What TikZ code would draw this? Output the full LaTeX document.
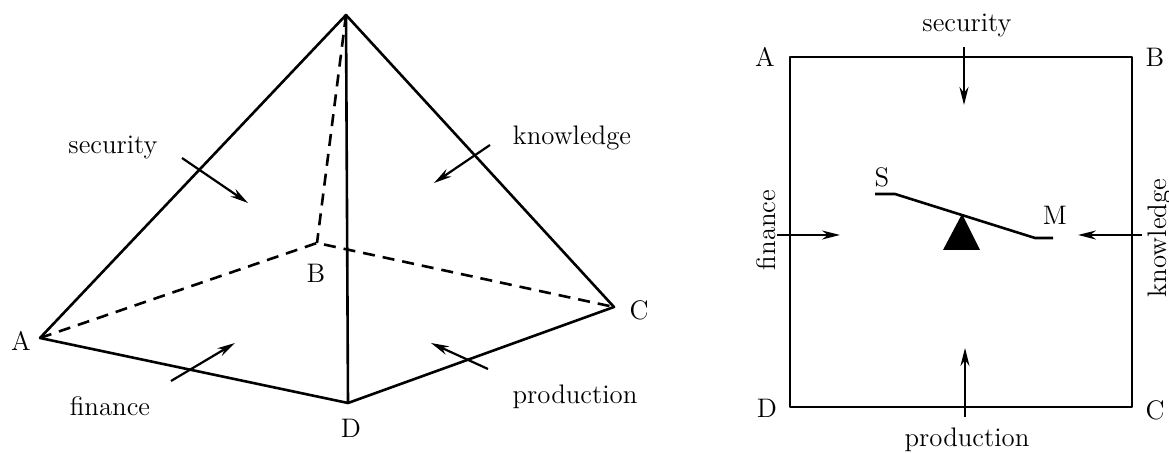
\documentclass[tikz,border=0pt]{standalone}
\usetikzlibrary{arrows.meta}
\begin{document}
\begin{tikzpicture}[x=0.5pt,y=-0.5pt,
    edge/.style={line width=1.3pt, line join=round},
    hidden/.style={edge, dash pattern=on 6pt off 4pt},
    force/.style={line width=1.1pt, -{Stealth[length=9pt,width=4.5pt]}},
    lbl/.style={font=\fontsize{13.4}{16}\selectfont, inner sep=0pt}]
\useasboundingbox (0,0) rectangle (1169,453);

% pyramid
\coordinate (top) at (346,15);
\coordinate (pA) at (40,338);
\coordinate (pB) at (317,243);
\coordinate (pC) at (614,307);
\coordinate (pD) at (348,403);
\draw[hidden] (pA) -- (pB) -- (pC);
\draw[hidden] (top) -- (pB);
\draw[edge] (pA) -- (top) -- (pC) -- (pD) -- cycle;
\draw[edge] (top) -- (pD);
\node[lbl] (pAl) at (21,341) {A};
\node[lbl] (pBl) at (316,273) {B};
\node[lbl] (pCl) at (639,310) {C};
\node[lbl] (pDl) at (351,428) {D};

% forces on the faces
\coordinate (secT) at (182,158);  \coordinate (secH) at (248,203);
\coordinate (knoT) at (490,145);  \coordinate (knoH) at (434,183);
\coordinate (finT) at (171,381);  \coordinate (finH) at (235,343);
\coordinate (proT) at (488,369);  \coordinate (proH) at (431,343);
\draw[force] (secT) -- (secH);
\draw[force] (knoT) -- (knoH);
\draw[force] (finT) -- (finH);
\draw[force] (proT) -- (proH);
\node[lbl] (secl) at (113,147) {security};
\node[lbl] (knol) at (572,138) {knowledge};
\node[lbl] (finl) at (110,406) {finance};
\node[lbl] (prol) at (575,397) {production};

% square
\coordinate (sA) at (790,57);
\coordinate (sB) at (1132,57);
\coordinate (sC) at (1132,407);
\coordinate (sD) at (790,407);
\draw[edge] (sA) -- (sB) -- (sC) -- (sD) -- cycle;
\node[lbl] (sAl) at (765,57) {A};
\node[lbl] (sBl) at (1155,57) {B};
\node[lbl] (sCl) at (1155,410) {C};
\node[lbl] (sDl) at (767,408) {D};

% seesaw
\coordinate (sawS) at (875,194);
\coordinate (sawS2) at (895,194);
\coordinate (sawM2) at (1035,238);
\coordinate (sawM) at (1053,238);
\draw[edge] (sawS) -- (sawS2) -- (sawM2) -- (sawM);
\coordinate (pivot) at (962,214);
\coordinate (baseL) at (943,250);
\coordinate (baseR) at (980,250);
\fill (pivot) -- (baseL) -- (baseR) -- cycle;
\node[lbl] (Sl) at (882,177) {S};
\node[lbl] (Ml) at (1055,215) {M};

% forces on the sides
\coordinate (ssecT) at (964,47);   \coordinate (ssecH) at (964,105);
\coordinate (sproT) at (965,417);  \coordinate (sproH) at (965,348);
\coordinate (sfinT) at (777,235);  \coordinate (sfinH) at (840,235);
\coordinate (sknoT) at (1142,235); \coordinate (sknoH) at (1078,235);
\draw[force] (ssecT) -- (ssecH);
\draw[force] (sproT) -- (sproH);
\draw[force] (sfinT) -- (sfinH);
\draw[force] (sknoT) -- (sknoH);
\node[lbl] (ssecl) at (967,25) {security};
\node[lbl] (sprol) at (967,440) {production};
\node[lbl, rotate=90] (sfinl) at (766,230) {finance};
\node[lbl, rotate=90] (sknol) at (1160,238) {knowledge};
\end{tikzpicture}
\end{document}
